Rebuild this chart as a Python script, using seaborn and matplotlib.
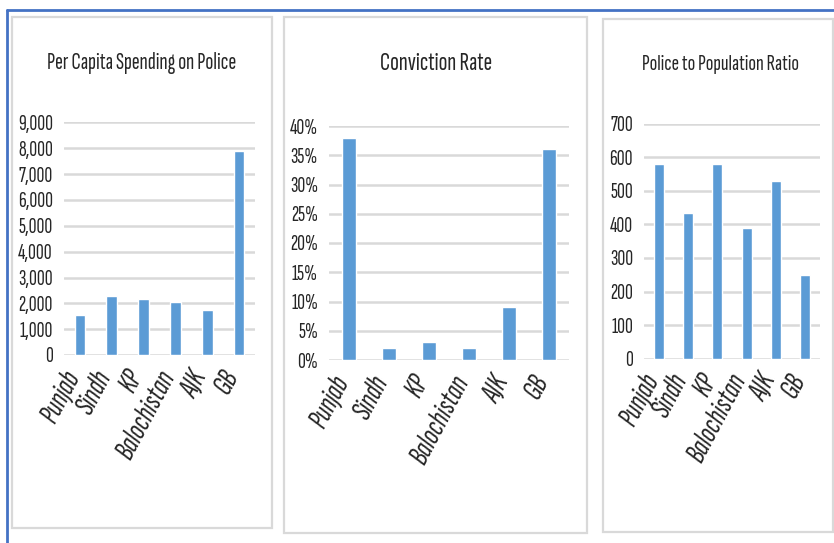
import matplotlib
matplotlib.use("Agg")
import matplotlib.pyplot as plt
from matplotlib import font_manager
from matplotlib.patches import Rectangle
from matplotlib.lines import Line2D
from matplotlib.transforms import ScaledTranslation
import seaborn as sns
import pandas as pd

# ---------------- data ----------------
regions = ["Punjab", "Sindh", "KP", "Balochistan", "AJK", "GB"]
spending = [1550, 2300, 2150, 2050, 1750, 7900]
conviction = [0.38, 0.02, 0.03, 0.02, 0.09, 0.36]
police_ratio = [580, 435, 580, 390, 530, 250]

titles = ["Per Capita Spending on Police", "Conviction Rate", "Police to Population Ratio"]
spend_ticks = [0, 1000, 2000, 3000, 4000, 5000, 6000, 7000, 8000, 9000]
spend_labels = ["0", "1,000", "2,000", "3,000", "4,000", "5,000", "6,000", "7,000", "8,000", "9,000"]
conv_ticks = [0, 0.05, 0.10, 0.15, 0.20, 0.25, 0.30, 0.35, 0.40]
conv_labels = ["0%", "5%", "10%", "15%", "20%", "25%", "30%", "35%", "40%"]
ratio_ticks = [0, 100, 200, 300, 400, 500, 600, 700]
ratio_labels = ["0", "100", "200", "300", "400", "500", "600", "700"]

# ---------------- style ----------------
sns.set_theme(style="white")
names = {f.name for f in font_manager.fontManager.ttflist}
FAM = next(c for c in ["Sofia Sans Extra Condensed", "Archivo Narrow", "Liberation Sans"]
           if c in names)
plt.rcParams["font.family"] = [FAM, "DejaVu Sans"]

BAR = "#5b9bd5"
GRID = "#d9d9d9"
TXT = "#262626"

W, H = 834, 543
fig = plt.figure(figsize=(W / 100, H / 100), dpi=100)
fig.patch.set_facecolor("white")
renderer = fig.canvas.get_renderer()


def fit(text, target, **kw):
    t = fig.text(0, 0, text, fontsize=10, **kw)
    bb = t.get_window_extent(renderer)
    t.remove()
    return 10 * target / bb.width


def rect(x0, x1, ytop, ybot):
    return [x0 / W, 1 - ybot / H, (x1 - x0) / W, (ybot - ytop) / H]


# panel boxes
for (x0, x1, yt, yb) in [(12, 272, 17, 528), (284, 587, 17, 533), (603, 833, 19, 532)]:
    fig.add_artist(Rectangle((x0 / W, 1 - yb / H), (x1 - x0) / W, (yb - yt) / H,
                             transform=fig.transFigure, fill=False, ec=GRID, lw=1.6))

# outer blue frame
fig.add_artist(Line2D([7 / W, 7 / W], [0, 1 - 10 / H], color="#4472c4", lw=2,
                      transform=fig.transFigure))
fig.add_artist(Line2D([7 / W, 1], [1 - 10 / H, 1 - 10 / H], color="#4472c4", lw=2,
                      transform=fig.transFigure))

ROT = 62
ytick_size = fit("40%", 28)
xlab_size = fit("Balochistan", 96, style="italic")

panels = [
    (spending, spend_ticks, spend_labels, (64, 255, 122.5, 355), 9000),
    (conviction, conv_ticks, conv_labels, (329, 569, 126, 360), 0.40),
    (police_ratio, ratio_ticks, ratio_labels, (644, 820, 123.7, 358.7), 700),
]

for vals, ticks, labels, pos, ymax in panels:
    ax = fig.add_axes(rect(*pos))
    df = pd.DataFrame({"region": regions, "value": vals})
    sns.barplot(data=df, x="region", y="value", color=BAR, saturation=1,
                width=0.33, ax=ax, zorder=3)
    ax.set_xlim(-0.5, 5.5)
    ax.set_ylim(0, ymax)
    ax.set_yticks(ticks)
    ax.set_yticklabels(labels, fontsize=ytick_size, color=TXT)
    ax.set_xticks(range(len(regions)))
    ax.set_xticklabels(regions, rotation=ROT, ha="right", va="baseline",
                       rotation_mode="anchor", fontstyle="italic",
                       fontsize=xlab_size, color=TXT)
    off = ScaledTranslation(5 / 100, 0, fig.dpi_scale_trans)
    for lbl in ax.get_xticklabels():
        lbl.set_transform(lbl.get_transform() + off)
    ax.tick_params(axis="both", length=0)
    ax.tick_params(axis="y", pad=8)
    ax.tick_params(axis="x", pad=15)
    ax.set_xlabel("")
    ax.set_ylabel("")
    for s in ax.spines.values():
        s.set_visible(False)
    ax.yaxis.grid(True, color=GRID, lw=1.8, zorder=0)
    ax.xaxis.grid(False)
    ax.set_axisbelow(True)
    ax.set_facecolor("none")

title_pos = [(142, 63, 189), (436, 63, 112), (721, 65, 157)]
for t, (cx, cy, tw) in zip(titles, title_pos):
    fig.text(cx / W, 1 - cy / H, t, ha="center", va="center",
             fontsize=fit(t, tw), color=TXT)

fig.savefig("out.png", dpi=100, facecolor="white")
